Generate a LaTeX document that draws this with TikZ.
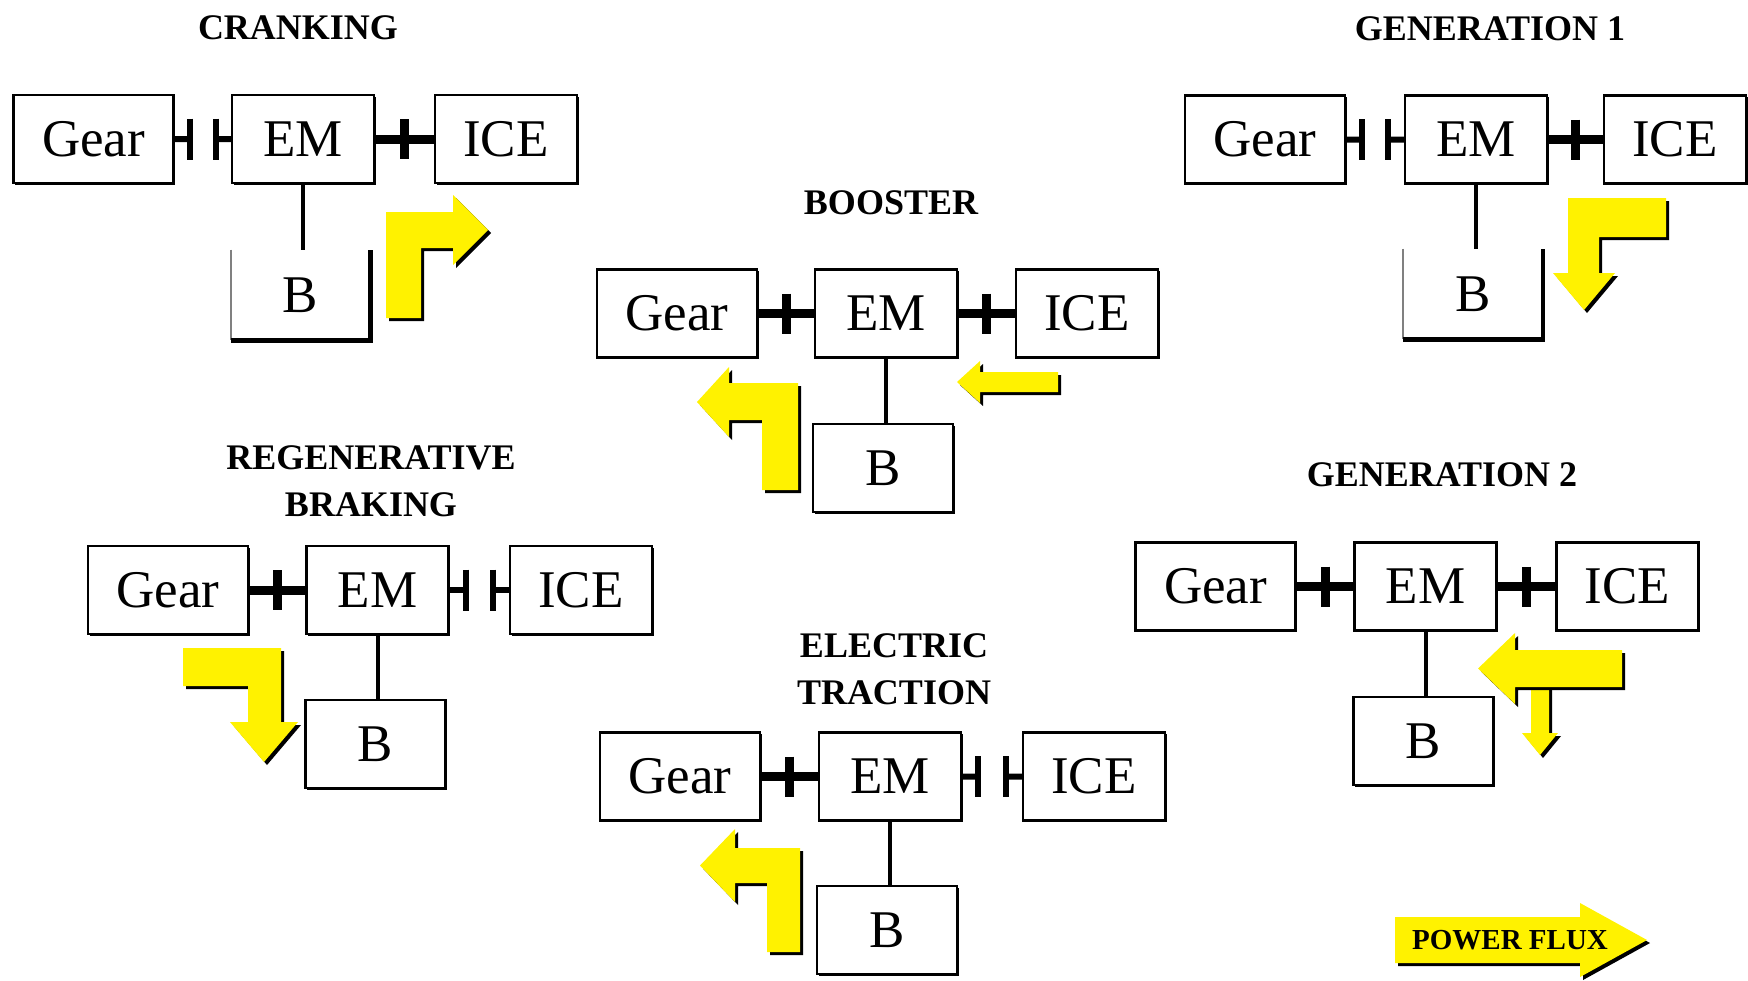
\documentclass[tikz,border=0pt]{standalone}
\usepackage{fontspec}
\setmainfont{Liberation Serif}
\usetikzlibrary{calc}
\newcommand{\clutchon}[2]{%
  \draw[shaft] (#1.east) -- (#2.west);
  \draw[cbar] ($(#1.east)!0.5!(#2.west)$) ++(0,-20) -- ++(0,40);}
\newcommand{\clutchoff}[2]{%
  \path ($(#1.east)!0.27!(#2.west)$) coordinate (cl1) ($(#1.east)!0.73!(#2.west)$) coordinate (cl2);
  \draw[stub] (#1.east) -- (cl1);
  \draw[stub] (cl2) -- (#2.west);
  \draw[obar] (cl1) ++(0,-20.5) -- ++(0,41);
  \draw[obar] (cl2) ++(0,-20.5) -- ++(0,41);}
\begin{document}
\begin{tikzpicture}[x=0.5pt,y=-0.5pt,
  box/.style={draw=black, line width=1.1pt, fill=white, inner sep=0pt, minimum height=44pt,
    font=\fontsize{26.5}{30}\selectfont,
    preaction={fill=black, transform canvas={shift={(0.9pt,-0.9pt)}}}},
  gearbox/.style={box, minimum width=80pt},
  unitbox/.style={box, minimum width=71pt},
  bbox/.style={box, minimum width=70pt},
  openb/.style={inner sep=0pt, minimum width=69.5pt, minimum height=45pt, font=\fontsize{26.5}{30}\selectfont},
  title/.style={font=\fontsize{18}{23.5}\selectfont\bfseries, align=center, inner sep=0pt},
  shaft/.style={line width=4.5pt, black},
  cbar/.style={line width=4.5pt, black},
  stub/.style={line width=3pt, black},
  obar/.style={line width=3pt, black},
  link/.style={line width=2pt, black},
  lgray/.style={line width=1.1pt, gray},
  ublack/.style={line width=2.2pt, black},
  flux/.style={fill=yellow, preaction={fill=black, transform canvas={shift={(1.5pt,-1.5pt)}}}}
]
\useasboundingbox (0,0) rectangle (1748,980);

% ---------- CRANKING ----------
\node[title] (tC) at (298,28) {CRANKING};
\node[gearbox] (cG) at (93.5,139) {Gear};
\node[unitbox] (cE) at (303,139) {EM};
\node[unitbox] (cI) at (506,139) {ICE};
\node[openb] (cB) at (300.5,295) {B};
\draw[lgray] (cB.north west) -- (cB.south west);
\draw[ublack] (cB.south west) -- (cB.south east) -- (cB.north east);
\clutchoff{cG}{cE}
\clutchon{cE}{cI}
\draw[link] (cE.south) -- (cE.south |- cB.north);
\fill[flux] (386,318) -- (386,212) -- (453,212) -- (453,195) -- (488,230) -- (453,265) -- (453,248) -- (421,248) -- (421,318) -- cycle;

% ---------- GENERATION 1 ----------
\node[title] (tG1) at (1490,29) {GENERATION 1};
\node[gearbox] (gG) at (1265,139.5) {Gear};
\node[unitbox] (gE) at (1476,139.5) {EM};
\node[unitbox] (gI) at (1675,139.5) {ICE};
\node[openb] (gB) at (1473,294) {B};
\draw[lgray] (gB.north west) -- (gB.south west);
\draw[ublack] (gB.south west) -- (gB.south east) -- (gB.north east);
\clutchoff{gG}{gE}
\clutchon{gE}{gI}
\draw[link] (gE.south) -- (gE.south |- gB.north);
\fill[flux] (1666,198) -- (1568,198) -- (1568,273) -- (1553,273) -- (1584,310) -- (1615,273) -- (1599,273) -- (1599,237) -- (1666,237) -- cycle;

% ---------- BOOSTER ----------
\node[title] (tB) at (891,203) {BOOSTER};
\node[gearbox] (bG) at (677,313.5) {Gear};
\node[unitbox] (bE) at (886,313.5) {EM};
\node[unitbox] (bI) at (1087,313.5) {ICE};
\node[bbox] (bB) at (883,468) {B};
\clutchon{bG}{bE}
\clutchon{bE}{bI}
\draw[link] (bE.south) -- (bE.south |- bB.north);
\fill[flux] (798,490) -- (798,383) -- (729,383) -- (729,367) -- (697,402) -- (729,437) -- (729,420) -- (762,420) -- (762,490) -- cycle;
\fill[flux] (1058,372) -- (980,372) -- (980,361) -- (957,382) -- (980,403) -- (980,392) -- (1058,392) -- cycle;

% ---------- REGENERATIVE BRAKING ----------
\node[title] (tR) at (371,481) {REGENERATIVE\\BRAKING};
\node[gearbox] (rG) at (168,590) {Gear};
\node[unitbox] (rE) at (377.5,590) {EM};
\node[unitbox] (rI) at (581,590) {ICE};
\node[bbox] (rB) at (375.5,744) {B};
\clutchon{rG}{rE}
\clutchoff{rE}{rI}
\draw[link] (rE.south) -- (rE.south |- rB.north);
\fill[flux] (183,648) -- (281,648) -- (281,722) -- (298,722) -- (264,762) -- (230,722) -- (248,722) -- (248,686) -- (183,686) -- cycle;

% ---------- GENERATION 2 ----------
\node[title] (tG2) at (1442,475) {GENERATION 2};
\node[gearbox] (hG) at (1215.5,586.5) {Gear};
\node[unitbox] (hE) at (1425.5,586.5) {EM};
\node[unitbox] (hI) at (1627.5,586.5) {ICE};
\node[bbox] (hB) at (1423.5,741) {B};
\clutchon{hG}{hE}
\clutchon{hE}{hI}
\draw[link] (hE.south) -- (hE.south |- hB.north);
\fill[flux] (1531,687) -- (1531,733) -- (1522,733) -- (1540,755) -- (1558,733) -- (1549,733) -- (1549,687) -- cycle;
\fill[flux] (1622,650) -- (1515,650) -- (1515,633) -- (1478,668.5) -- (1515,704) -- (1515,687) -- (1622,687) -- cycle;

% ---------- ELECTRIC TRACTION ----------
\node[title] (tE) at (894,669.5) {ELECTRIC\\TRACTION};
\node[gearbox] (eG) at (680,776.5) {Gear};
\node[unitbox] (eE) at (890,776.5) {EM};
\node[unitbox] (eI) at (1094,776.5) {ICE};
\node[bbox] (eB) at (887,930) {B};
\clutchon{eG}{eE}
\clutchoff{eE}{eI}
\draw[link] (eE.south) -- (eE.south |- eB.north);
\fill[flux] (800,952) -- (800,848) -- (735,848) -- (735,829) -- (700,865.5) -- (735,902) -- (735,883) -- (767,883) -- (767,952) -- cycle;

% ---------- LEGEND ----------
\fill[flux] (1395,917) -- (1580,917) -- (1580,903) -- (1647,940) -- (1580,977) -- (1580,963) -- (1395,963) -- cycle;
\node[font=\fontsize{14.5}{16}\selectfont\bfseries, inner sep=0pt] (pf) at (1510,940) {POWER FLUX};
\end{tikzpicture}
\end{document}
